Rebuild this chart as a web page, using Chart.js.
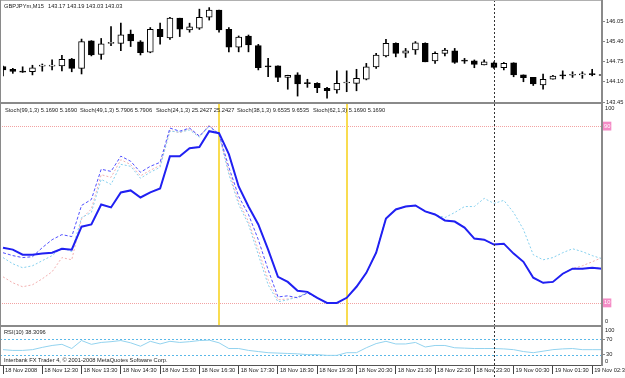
<!DOCTYPE html>
<html>
<head>
<meta charset="utf-8">
<script src="https://cdn.jsdelivr.net/npm/chart.js@4.4.0/dist/chart.umd.min.js"></script>
<style>
body { margin: 0; background: #fff; }
#wrap { position: relative; width: 625px; height: 378px; overflow: hidden; background: #fff; font-family: "Liberation Sans", Arial, sans-serif; }
canvas { position: absolute; left: 0; }
.txt { position: absolute; font-size: 5.7px; line-height: 7px; color: #222; white-space: pre; }
.frame { position: absolute; background: #8a8a8a; }
</style>
</head>
<body>
<div id="wrap">
  <canvas id="price" width="625" height="104" style="top:0"></canvas>
  <canvas id="stoch" width="625" height="221" style="top:104px"></canvas>
  <canvas id="rsi" width="625" height="51" style="top:327px"></canvas>

  <div class="frame" style="left:0;top:0;width:603px;height:1px;background:#b0b0b0"></div>
  <div class="frame" style="left:0;top:0;width:1px;height:366px"></div>
  <div class="frame" style="left:0;top:102px;width:603px;height:2px"></div>
  <div class="frame" style="left:0;top:325px;width:603px;height:2px"></div>
  <div class="frame" style="left:0;top:365px;width:603px;height:1px;background:#555"></div>
  <div class="frame" style="left:601px;top:0;width:2px;height:366px"></div>

  <div class="txt" style="left:4px;top:3px">GBPJPYm,M15</div>
  <div class="txt" style="left:48px;top:3px">143.17 143.19 143.03 143.03</div>

  <div class="txt" style="left:5px;top:107px">Stoch(99,1,3) 5.1690 5.1690</div>
  <div class="txt" style="left:80px;top:107px">Stoch(49,1,3) 5.7906 5.7906</div>
  <div class="txt" style="left:156px;top:107px">Stoch(24,1,3) 25.2427 25.2427</div>
  <div class="txt" style="left:237px;top:107px">Stoch(38,1,3) 9.6535 9.6535</div>
  <div class="txt" style="left:313px;top:107px">Stoch(62,1,3) 5.1690 5.1690</div>
  <div class="txt" style="left:605px;top:105px">100</div>
  <div class="txt" style="left:605px;top:318px">0</div>

  <div class="txt" style="left:4px;top:329px">RSI(10) 38.3096</div>
  <div class="txt" style="left:4px;top:357px">Interbank FX Trader 4, © 2001-2008 MetaQuotes Software Corp.</div>
  <div class="txt" style="left:605px;top:327px">100</div>
  <div class="txt" style="left:605px;top:358px">0</div>
</div>
<script>
// bar times (M15)
const times = [
  '18 Nov 11:30','18 Nov 11:45','18 Nov 12:00','18 Nov 12:15','18 Nov 12:30','18 Nov 12:45','18 Nov 13:00','18 Nov 13:15',
  '18 Nov 13:30','18 Nov 13:45','18 Nov 14:00','18 Nov 14:15','18 Nov 14:30','18 Nov 14:45','18 Nov 15:00','18 Nov 15:15',
  '18 Nov 15:30','18 Nov 15:45','18 Nov 16:00','18 Nov 16:15','18 Nov 16:30','18 Nov 16:45','18 Nov 17:00','18 Nov 17:15',
  '18 Nov 17:30','18 Nov 17:45','18 Nov 18:00','18 Nov 18:15','18 Nov 18:30','18 Nov 18:45','18 Nov 19:00','18 Nov 19:15',
  '18 Nov 19:30','18 Nov 19:45','18 Nov 20:00','18 Nov 20:15','18 Nov 20:30','18 Nov 20:45','18 Nov 21:00','18 Nov 21:15',
  '18 Nov 21:30','18 Nov 21:45','18 Nov 22:00','18 Nov 22:15','18 Nov 22:30','18 Nov 22:45','18 Nov 23:00','18 Nov 23:15',
  '18 Nov 23:30','18 Nov 23:45','19 Nov 00:00','19 Nov 00:15','19 Nov 00:30','19 Nov 00:45','19 Nov 01:00','19 Nov 01:15',
  '19 Nov 01:30','19 Nov 01:45','19 Nov 02:00','19 Nov 02:15','19 Nov 02:30','19 Nov 02:45'
];
const firstLabel = '18 Nov 2008';

const opens = [144.59,144.50,144.43,144.42,144.60,144.60,144.61,144.83,144.53,145.41,
  144.98,145.33,145.33,145.63,145.38,145.05,145.78,145.51,146.14,145.76,
  145.82,146.17,146.40,145.78,145.21,145.57,145.26,144.59,144.61,144.24,
  144.32,144.05,144.05,143.89,143.84,144.06,144.05,144.18,144.58,144.93,
  145.33,145.02,145.12,145.33,144.77,145.01,145.09,144.77,144.77,144.64,
  144.71,144.55,144.71,144.32,144.24,144.00,144.18,144.30,144.31,144.32,
  144.35,144.33];
const highs = [144.60,144.53,144.58,144.63,144.67,144.80,144.95,144.85,145.47,145.42,
  145.49,145.87,145.98,145.76,145.42,145.84,145.98,146.17,146.14,145.98,
  146.43,146.48,146.40,145.84,145.57,145.60,145.30,144.85,144.61,144.31,
  144.39,144.18,144.07,143.92,144.45,144.45,144.50,144.69,145.01,145.46,
  145.35,145.17,145.39,145.35,145.06,145.17,145.17,144.85,144.80,144.80,
  144.74,144.72,144.71,144.32,144.24,144.35,144.31,144.45,144.42,144.42,
  144.50,144.35];
const lows = [144.29,144.37,144.40,144.32,144.44,144.48,144.45,144.42,144.35,144.93,
  144.82,145.26,145.10,145.23,144.96,145.03,145.31,145.46,145.55,145.69,
  145.78,146.08,145.69,145.06,145.06,145.06,144.48,144.26,144.10,143.86,
  143.64,143.92,143.75,143.57,143.73,143.78,143.81,144.16,144.53,144.90,
  144.90,144.88,144.98,144.74,144.69,144.93,144.69,144.69,144.55,144.64,
  144.53,144.48,144.26,144.10,143.98,143.86,144.18,144.19,144.24,144.21,
  144.29,144.28];
const closes = [144.48,144.43,144.41,144.55,144.61,144.61,144.82,144.53,145.39,144.96,
  145.32,145.34,145.61,145.41,145.03,145.78,145.55,146.14,145.79,145.86,
  146.17,146.40,145.76,145.21,145.53,145.28,144.55,144.58,144.24,144.31,
  144.03,144.04,143.91,143.81,144.05,144.07,144.21,144.58,144.96,145.33,
  145.01,145.09,145.35,144.74,145.01,145.12,144.72,144.76,144.66,144.74,
  144.56,144.69,144.32,144.23,144.03,144.18,144.28,144.29,144.33,144.32,
  144.33,144.30];
const priceTicks = [146.05, 145.40, 144.75, 144.10, 143.45];

// stochastic lines
const stochMain = [35.0,34.1,31.8,31.8,32.3,32.7,34.5,34.1,44.5,45.5,
  54.5,53.2,60.0,60.9,57.7,60.0,61.8,76.4,76.4,80.0,
  80.5,87.7,86.8,77.3,62.7,53.6,45.5,34.1,21.8,19.5,
  15.5,15.0,12.3,10.0,10.0,12.3,17.3,23.6,32.7,48.2,
  52.3,53.6,54.1,51.4,50.0,47.3,46.8,44.1,39.1,38.6,
  36.4,36.8,32.3,28.6,21.4,19.1,19.5,23.2,25.5,25.5,
  25.9,25.5];
const stochDash = [32.7,31.4,30.5,30.9,35.0,38.6,40.9,40.0,54.1,56.8,
  70.5,69.5,76.4,74.1,69.1,71.8,73.6,89.1,87.7,89.1,
  85.5,90.0,86.4,71.4,58.2,50.0,38.6,25.0,12.7,13.2,
  12.3,14.5,12.3,10.0,10.0,12.3,17.3,23.6,32.7,48.2,
  52.3,53.6,54.1,51.4,50.0,47.3,46.8,44.1,39.1,38.6,
  36.4,36.8,32.3,28.6,21.4,19.1,19.5,23.2,25.5,25.5,
  25.9,25.5];
const stochCyan = [30.5,27.7,25.9,26.8,29.1,31.4,35.0,33.2,48.6,50.9,
  65.9,63.6,72.7,71.8,66.4,69.1,71.4,87.7,87.3,88.2,
  85.0,90.0,85.9,68.2,54.5,45.5,31.8,18.2,10.5,11.4,
  12.7,14.5,12.3,10.0,10.0,12.3,17.3,23.6,32.7,48.2,
  52.3,53.6,54.1,51.4,50.0,48.6,50.9,53.6,53.6,57.3,
  55.0,56.4,50.9,43.2,31.8,29.5,30.5,32.7,34.5,33.2,
  31.4,30.0];
const stochPink = [21.8,19.1,17.3,18.2,20.9,24.1,30.5,29.5,48.0,52.5,
  68.0,66.8,74.8,72.6,67.5,70.0,72.2,88.0,87.0,88.9,
  85.3,90.5,86.0,69.5,55.9,46.8,34.1,20.5,11.4,11.8,
  12.7,14.5,12.3,10.0,10.0,12.3,17.3,23.6,32.7,48.2,
  52.3,53.6,54.1,51.4,50.0,47.3,46.8,44.1,39.1,38.6,
  36.4,36.8,32.3,28.6,21.4,19.1,19.5,23.2,25.5,26.8,
  28.6,30.5];
const stochLevels = [90, 10];

const rsi = [43,41,41,43,49,54,57,46,67,57,
  62,64,67,61,52,65,58,65,62,64,
  67,68,61,46,46,41,38,35,34,33,
  32,30,30,28,28,35,35,48,59,65,
  58,58,62,50,54,54,48,47,46,46,
  46,45,43,38,35,39,43,45,46,43,
  43,43];
const rsiLevels = [70, 30];

const yellowBars = [22, 35];
const separatorBar = 50;

const FONT = { family: '"Liberation Sans", Arial, sans-serif', size: 5.7 };

// levels, vertical markers and the period separator
const guides = {
  id: 'guides',
  beforeDatasetsDraw(chart, args, opts) {
    const ctx = chart.ctx, a = chart.chartArea, x = chart.scales.x, y = chart.scales.y;
    ctx.save();
    (opts.levels || []).forEach(v => {
      const py = Math.round(y.getPixelForValue(v)) + 0.5;
      ctx.strokeStyle = opts.levelColor;
      ctx.lineWidth = 1;
      ctx.setLineDash(opts.levelDash || [2, 2]);
      ctx.beginPath();
      ctx.moveTo(0, py);
      ctx.lineTo(a.right, py);
      ctx.stroke();
    });
    (opts.marks || []).forEach(i => {
      const px = Math.round(x.getPixelForValue(i));
      ctx.strokeStyle = '#f9dc50';
      ctx.lineWidth = 2;
      ctx.setLineDash([]);
      ctx.beginPath();
      ctx.moveTo(px, 0);
      ctx.lineTo(px, chart.height);
      ctx.stroke();
    });
    ctx.restore();
  },
  afterDraw(chart, args, opts) {
    if (opts.separator == null) return;
    const ctx = chart.ctx, x = chart.scales.x;
    const px = Math.round(x.getPixelForValue(opts.separator)) + 0.5;
    ctx.save();
    ctx.strokeStyle = '#333';
    ctx.lineWidth = 1;
    ctx.setLineDash([2, 2]);
    ctx.beginPath();
    ctx.moveTo(px, 0);
    ctx.lineTo(px, chart.height);
    ctx.stroke();
    ctx.restore();
  }
};
Chart.register(guides);

function fixY(w) {
  return s => { s.width = w; s.paddingTop = 0; s.paddingBottom = 0; };
}
function hiddenX() {
  return { type: 'category', offset: false, display: false, grid: { offset: false } };
}

// price pane
new Chart(document.getElementById('price'), {
  type: 'bar',
  data: {
    labels: times,
    datasets: [{
      data: opens.map((o, i) => [o, closes[i]]),
      backgroundColor: opens.map((o, i) => closes[i] >= o ? '#ffffff' : '#000000'),
      borderColor: '#000',
      borderWidth: 1,
      borderSkipped: false,
      barThickness: 6,
      minBarLength: 1,
      grouped: false,
      order: 0
    }, {
      data: lows.map((l, i) => [l, highs[i]]),
      backgroundColor: '#000',
      barThickness: 1,
      grouped: false,
      order: 1
    }]
  },
  options: {
    responsive: false,
    animation: false,
    events: [],
    layout: { padding: { left: 3, right: 0, top: 2, bottom: 2 } },
    plugins: { legend: { display: false }, tooltip: { enabled: false }, guides: { separator: separatorBar } },
    scales: {
      x: hiddenX(),
      y: {
        position: 'right',
        min: 143.45,
        max: 146.66,
        afterBuildTicks: s => { s.ticks = priceTicks.map(v => ({ value: v })); },
        afterFit: fixY(23),
        border: { display: false },
        grid: { drawOnChartArea: false, tickLength: 3, color: '#8a8a8a' },
        ticks: { font: FONT, color: '#222', padding: 1, callback: v => v.toFixed(2) }
      }
    }
  }
});

// stochastic pane
new Chart(document.getElementById('stoch'), {
  type: 'line',
  data: {
    labels: times,
    datasets: [
      { data: stochMain, borderColor: '#2020f2', borderWidth: 2 },
      { data: stochDash, borderColor: '#5050ff', borderWidth: 1, borderDash: [3, 2] },
      { data: stochCyan, borderColor: '#86d0ee', borderWidth: 1, borderDash: [2, 2] },
      { data: stochPink, borderColor: '#f2b0b0', borderWidth: 1, borderDash: [2, 2] }
    ]
  },
  options: {
    responsive: false,
    animation: false,
    events: [],
    elements: { point: { radius: 0 }, line: { tension: 0 } },
    layout: { padding: { left: 3, right: 0, top: 0, bottom: 0 } },
    plugins: {
      legend: { display: false }, tooltip: { enabled: false },
      guides: { levels: stochLevels, levelColor: '#f2a2a2', levelDash: [1, 1], marks: yellowBars, separator: separatorBar }
    },
    scales: {
      x: hiddenX(),
      y: {
        position: 'right',
        min: 0,
        max: 100,
        afterBuildTicks: s => { s.ticks = stochLevels.map(v => ({ value: v })); },
        afterFit: fixY(23),
        border: { display: false },
        grid: { drawOnChartArea: false, drawTicks: false },
        ticks: {
          font: FONT, color: '#fff', padding: 2,
          showLabelBackdrop: true, backdropColor: '#f48cc6', backdropPadding: 1
        }
      }
    }
  }
});

// RSI pane with the time axis
new Chart(document.getElementById('rsi'), {
  type: 'line',
  data: {
    labels: times,
    datasets: [{ data: rsi, borderColor: '#93d3ef', borderWidth: 1 }]
  },
  options: {
    responsive: false,
    animation: false,
    events: [],
    elements: { point: { radius: 0 }, line: { tension: 0 } },
    layout: { padding: { left: 3, right: 0, top: 1, bottom: 0 } },
    plugins: {
      legend: { display: false }, tooltip: { enabled: false },
      guides: { levels: rsiLevels, levelColor: '#5ab8e8', levelDash: [2, 2], separator: separatorBar }
    },
    scales: {
      x: {
        type: 'category',
        offset: false,
        afterFit: s => { s.height = 12; s.paddingLeft = 0; s.paddingRight = 0; },
        border: { display: false },
        grid: {
          offset: false,
          drawOnChartArea: false,
          tickLength: 8,
          color: c => c.index % 4 === 0 ? '#444' : 'rgba(0,0,0,0)'
        },
        ticks: {
          autoSkip: false, maxRotation: 0, minRotation: 0,
          align: 'start', padding: -7, labelOffset: 2,
          font: FONT, color: '#222',
          callback: (v, i) => i % 4 === 0 ? (i === 0 ? firstLabel : times[i]) : ''
        }
      },
      y: {
        position: 'right',
        min: 0,
        max: 100,
        afterBuildTicks: s => { s.ticks = rsiLevels.map(v => ({ value: v })); },
        afterFit: fixY(23),
        border: { display: false },
        grid: { drawOnChartArea: false, tickLength: 3, color: '#8a8a8a' },
        ticks: { font: FONT, color: '#222', padding: 1 }
      }
    }
  }
});
</script>
</body>
</html>
